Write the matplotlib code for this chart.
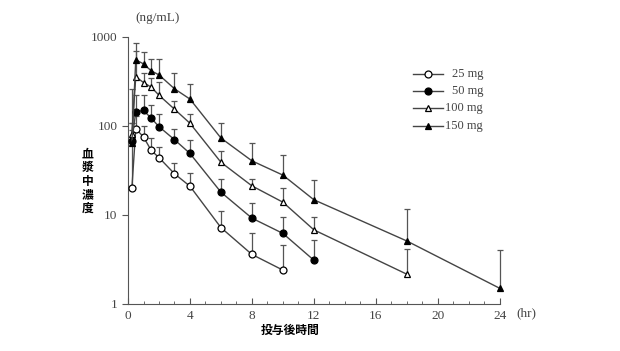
import numpy as np
import matplotlib
matplotlib.use("Agg")
import matplotlib.pyplot as plt
from matplotlib.lines import Line2D

# time after dosing (hr)
t_base = [0.25, 0.5, 1, 1.5, 2, 3, 4, 6, 8, 10, 12, 18, 24]

# mean plasma concentration (ng/mL)
mean_25 = [20, 93, 75, 53, 44, 29, 21, 7.2, 3.6, 2.4]
mean_50 = [68, 144, 149, 122, 98, 70, 49, 18, 9.2, 6.2, 3.1]
mean_100 = [81, 356, 307, 272, 221, 154, 107, 39, 21.2, 13.9, 6.8, 2.16]
mean_150 = [64, 552, 497, 415, 374, 261, 200, 73, 40.5, 28, 14.8, 5.1, 1.5]

# mean + SD (upper error bar end)
upper_25 = [107, 130, 100, 73, 58.5, 38.7, 29.5, 11.1, 6.2, 4.6]
upper_50 = [90, 220, 223, 172, 136, 92, 70, 25, 13.5, 9.6, 5.2]
upper_100 = [258, 700, 390, 345, 315, 190, 135, 52, 25, 20, 9.6, 4.15]
upper_150 = [107, 850, 673, 562, 562, 391, 297, 107, 64, 47, 24.7, 11.7, 4.0]

labels = ["25 mg", "50 mg", "100 mg", "150 mg"]
series = [(mean_25, upper_25, "o", "white"),
          (mean_50, upper_50, "o", "black"),
          (mean_100, upper_100, "^", "white"),
          (mean_150, upper_150, "^", "black")]

serif = "Liberation Serif"
jp = "Noto Sans CJK JP"
fs = 9

fig = plt.figure(figsize=(6.2, 3.51), dpi=100)
ax = fig.add_axes([0.2065, 0.134, 0.5995, 0.761])

for mean, up, mk, fc in series:
    t = np.array(t_base[:len(mean)])
    mean = np.array(mean)
    up = np.array(up)
    ax.vlines(t, mean, up, color="#555555", lw=0.9, zorder=1, clip_on=False)
    ax.plot(t, up, ls="none", marker="_", ms=4, mew=0.9, color="#555555",
            zorder=1, clip_on=False)
    ax.plot(t, mean, color="#444444", lw=1.0, marker=mk, ms=5,
            mfc=fc, mec="black", mew=0.9, zorder=3, clip_on=False)

ax.set_yscale("log")
ax.set_ylim(1, 1000)
ax.set_xlim(0, 24)
ax.set_xticks(range(0, 25, 4))
ax.set_xticks(range(0, 25), minor=True)
ax.set_yticks([1, 10, 100, 1000])
ax.set_yticklabels(["1", "10", "100", "1000"])
ax.yaxis.set_minor_locator(matplotlib.ticker.NullLocator())
ax.spines["top"].set_visible(False)
ax.spines["right"].set_visible(False)
for s in ("left", "bottom"):
    ax.spines[s].set_color("#555555")
ax.tick_params(axis="x", which="both", direction="in", colors="#555555",
               labelcolor="#444444", labelsize=fs + 0.5, pad=4)
ax.tick_params(axis="x", which="major", length=4)
ax.tick_params(axis="x", which="minor", length=2.5)
ax.tick_params(axis="y", direction="out", length=4, colors="#555555",
               labelcolor="#444444", labelsize=fs + 0.5)
for lab in ax.get_xticklabels() + ax.get_yticklabels():
    lab.set_family(serif)

fig.text(158 / 620, 1 - 18 / 351, "(ng/mL)", family=serif, fontsize=fs + 0.5,
         color="#444444", ha="center", va="center")
fig.text(526 / 620, 1 - 313 / 351, "(hr)", family=serif, fontsize=fs + 0.5,
         color="#444444", ha="center", va="center")
fig.text(290 / 620, 1 - 330 / 351, "投与後時間", family=jp, fontsize=8.5,
         fontweight="bold", ha="center", va="center")
fig.text(88 / 620, 1 - 181 / 351, "\n".join("血漿中濃度"), family=jp,
         fontsize=8.5, fontweight="bold", ha="center", va="center",
         linespacing=1.05)

# legend drawn by hand: short line with marker, right-aligned label
leg_y = [74, 91, 108, 126]
for (mean, up, mk, fc), lab, y in zip(series, labels, leg_y):
    yf = 1 - y / 351
    fig.add_artist(Line2D([413 / 620, 443 / 620], [yf, yf], color="#444444",
                          lw=1.0, transform=fig.transFigure))
    fig.add_artist(Line2D([428 / 620], [yf], ls="none", marker=mk, ms=5,
                          mfc=fc, mec="black", mew=0.9,
                          transform=fig.transFigure))
    fig.text(483 / 620, yf, lab, family=serif, fontsize=fs, color="#444444",
             ha="right", va="center")

fig.savefig("out.png", dpi=100)
